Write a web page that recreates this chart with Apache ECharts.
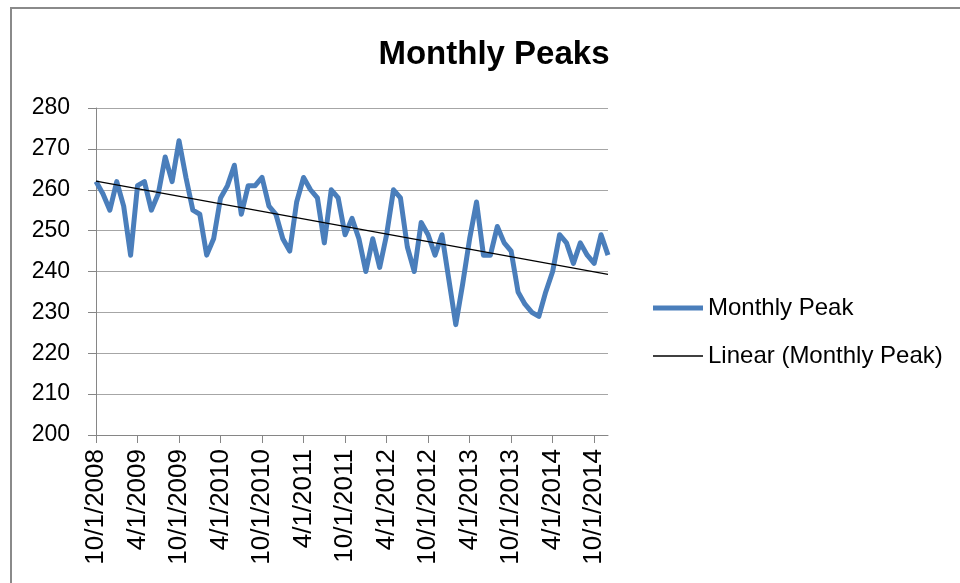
<!DOCTYPE html>
<html><head><meta charset="utf-8">
<script src="https://cdn.jsdelivr.net/npm/echarts@6/dist/echarts.min.js"></script>
<style>html,body{margin:0;padding:0;background:#fff}#c{width:960px;height:583px}</style>
</head><body><div id="c"></div>
<script>
const months = [
 "10/1/2008","11/1/2008","12/1/2008",
 "1/1/2009","2/1/2009","3/1/2009","4/1/2009","5/1/2009","6/1/2009","7/1/2009","8/1/2009","9/1/2009","10/1/2009","11/1/2009","12/1/2009",
 "1/1/2010","2/1/2010","3/1/2010","4/1/2010","5/1/2010","6/1/2010","7/1/2010","8/1/2010","9/1/2010","10/1/2010","11/1/2010","12/1/2010",
 "1/1/2011","2/1/2011","3/1/2011","4/1/2011","5/1/2011","6/1/2011","7/1/2011","8/1/2011","9/1/2011","10/1/2011","11/1/2011","12/1/2011",
 "1/1/2012","2/1/2012","3/1/2012","4/1/2012","5/1/2012","6/1/2012","7/1/2012","8/1/2012","9/1/2012","10/1/2012","11/1/2012","12/1/2012",
 "1/1/2013","2/1/2013","3/1/2013","4/1/2013","5/1/2013","6/1/2013","7/1/2013","8/1/2013","9/1/2013","10/1/2013","11/1/2013","12/1/2013",
 "1/1/2014","2/1/2014","3/1/2014","4/1/2014","5/1/2014","6/1/2014","7/1/2014","8/1/2014","9/1/2014","10/1/2014","11/1/2014","12/1/2014"
];
const monthlyPeak = [
 262, 259, 255, 262, 256, 244, 261, 262, 255, 259, 268, 262, 272, 263, 255,
 254, 244, 248, 258, 261, 266, 254, 261, 261, 263, 256, 254, 248, 245, 257,
 263, 260, 258, 247, 260, 258, 249, 253, 248, 240, 248, 241, 249, 260, 258,
 246, 240, 252, 249, 244, 249, 238, 227, 237, 248, 257, 244, 244, 251, 247,
 245, 235, 232, 230, 229, 235, 240, 249, 247, 242, 247, 244, 242, 249, 244
];
// Excel linear trendline, read at its two ends
const trendStart = 262.1;
const trendEnd = 239.3;
const yMin = 200, yMax = 280, yStep = 10;

const FONT = 'Liberation Sans';
const legendText = {fontFamily: FONT, fontSize: 24, color: '#000'};
const chart = echarts.init(document.getElementById('c'), null, {renderer: 'canvas'});
chart.setOption({
  animation: false,
  backgroundColor: '#fff',
  graphic: [{
    type: 'rect', silent: true, z: -10,
    shape: {x: 11, y: 8, width: 1100, height: 700},
    style: {fill: 'none', stroke: '#8a8a8a', lineWidth: 2}
  }],
  title: {
    text: 'Monthly Peaks',
    left: 489, top: 33, textAlign: 'center',
    textStyle: {fontFamily: FONT, fontSize: 33, fontWeight: 'bold', color: '#000'}
  },
  legend: [{
    orient: 'vertical', left: 648, top: 291,
    icon: 'rect', itemWidth: 50, itemHeight: 5,
    textStyle: legendText,
    data: ['Monthly Peak']
  }, {
    orient: 'vertical', left: 648, top: 339,
    icon: 'rect', itemWidth: 50, itemHeight: 1.3,
    textStyle: legendText,
    data: ['Linear (Monthly Peak)']
  }],
  grid: {left: 96, top: 108, width: 512, height: 327},
  xAxis: {
    type: 'category', data: months, boundaryGap: false,
    axisLine: {lineStyle: {color: '#868686', width: 1}},
    axisTick: {interval: 5, length: 8, lineStyle: {color: '#868686'}},
    axisLabel: {interval: 5, rotate: 90, margin: 14, fontFamily: FONT, fontSize: 26, color: '#000'},
    splitLine: {show: false}
  },
  yAxis: {
    type: 'value', min: yMin, max: yMax, interval: yStep,
    axisLine: {show: true, lineStyle: {color: '#868686', width: 1}},
    axisTick: {show: true, length: 8, lineStyle: {color: '#868686'}},
    axisLabel: {margin: 26, fontFamily: FONT, fontSize: 23, color: '#000'},
    splitLine: {lineStyle: {color: '#a6a6a6', width: 1}}
  },
  series: [{
    name: 'Monthly Peak', type: 'line', data: monthlyPeak,
    symbol: 'none', z: 3,
    lineStyle: {color: '#4a7ebb', width: 5, join: 'round'},
    itemStyle: {color: '#4a7ebb'}
  }, {
    name: 'Linear (Monthly Peak)', type: 'line',
    data: [[0, trendStart], [monthlyPeak.length - 1, trendEnd]],
    symbol: 'none', z: 4,
    lineStyle: {color: '#000', width: 1.2},
    itemStyle: {color: '#000'}
  }]
});
</script></body></html>
